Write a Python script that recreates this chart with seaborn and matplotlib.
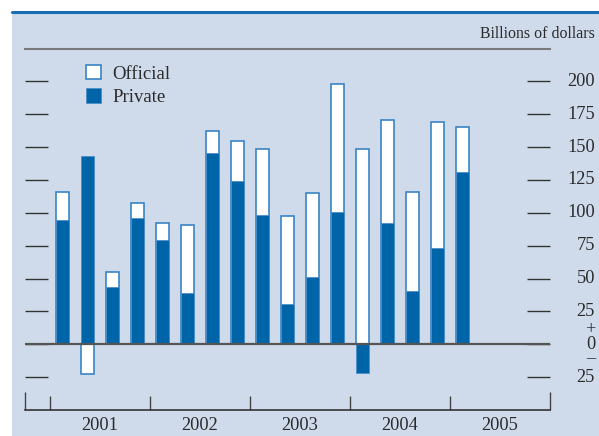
import numpy as np
import pandas as pd
import matplotlib.pyplot as plt
import seaborn as sns
from matplotlib.patches import Patch, Rectangle
from matplotlib.lines import Line2D

# DATOS (miles de millones de dolares, trimestral 2001Q1 - 2005Q1)
quarters = ['2001Q1', '2001Q2', '2001Q3', '2001Q4',
            '2002Q1', '2002Q2', '2002Q3', '2002Q4',
            '2003Q1', '2003Q2', '2003Q3', '2003Q4',
            '2004Q1', '2004Q2', '2004Q3', '2004Q4',
            '2005Q1']
private = [94.2, 143.4, 43.7, 96.4, 79.2, 39.1, 145.7, 124.4, 98.0,
           30.7, 51.0, 100.5, -21.6, 92.6, 40.6, 73.1, 130.7]
official = [21.5, -22.6, 11.6, 10.7, 12.7, 51.3, 16.2, 30.2, 50.7,
            66.8, 64.2, 97.5, 148.2, 78.2, 75.6, 95.7, 34.3]
years = ['2001', '2002', '2003', '2004', '2005']
ytick_vals = [-25, 0, 25, 50, 75, 100, 125, 150, 175, 200]

BG = '#cfdbeb'
DARK = '#0064a8'
EDGE = '#3a84c4'
TXT = '#2b2b2b'

df = pd.DataFrame({'quarter': quarters, 'private': private, 'official': official})
# la parte oficial se apila sobre la privada cuando tienen el mismo signo
df['official_top'] = np.where(df['official'] >= 0,
                              np.maximum(df['private'], 0) + df['official'],
                              np.minimum(df['private'], 0) + df['official'])

sns.set_style('white')
plt.rcParams['font.family'] = ['Liberation Serif', 'DejaVu Serif']

W, H = 599, 436
fig = plt.figure(figsize=(W / 100, H / 100), dpi=100)
fig.patch.set_facecolor('white')
fig.patches.append(Rectangle((12 / W, 0), 1 - 12 / W, (H - 12) / H,
                             transform=fig.transFigure, facecolor=BG,
                             edgecolor='none', zorder=-10))
fig.lines.append(Line2D([12 / W, 1], [(H - 12) / H] * 2, transform=fig.transFigure,
                        color='#1a6db0', lw=2.2))

ax = fig.add_axes([25 / W, (H - 410) / H, 525 / W, 361 / H])
ax.set_facecolor('none')

sns.barplot(data=df, x='quarter', y='official_top', order=quarters, color='white',
            saturation=1, edgecolor=EDGE, linewidth=1.2, width=0.5,
            errorbar=None, ax=ax, zorder=2)
sns.barplot(data=df, x='quarter', y='private', order=quarters, color=DARK,
            saturation=1, edgecolor='#4f8fc8', linewidth=0.6, width=0.5,
            errorbar=None, ax=ax, zorder=3)

ax.set_xlim(-1.5, 19.5)
ax.set_ylim(-50, 224.6)
ax.set_xlabel('')
ax.set_ylabel('')

ax.axhline(0, color='#555555', lw=1.6, zorder=4)

# ejes y ticks
for side in ['left', 'right']:
    ax.spines[side].set_visible(False)
ax.spines['top'].set_color('#7a7a7a')
ax.spines['top'].set_linewidth(1.5)
ax.spines['bottom'].set_color('#333333')
ax.spines['bottom'].set_linewidth(1.2)

ax.set_yticks(ytick_vals)
ax.tick_params(axis='y', which='major', direction='in', left=True, right=True,
               length=16.6, width=1, color='#333333', labelleft=False, labelright=False)

ax.set_xticks([-0.5, 3.5, 7.5, 11.5, 15.5])
ax.set_xticks([-1.5, 19.5], minor=True)
ax.tick_params(axis='x', which='major', direction='in', bottom=True, length=10,
               width=1, color='#444444', labelbottom=False)
ax.tick_params(axis='x', which='minor', direction='in', bottom=True, length=13,
               width=1, color='#444444', labelbottom=False)

# etiquetas del eje derecho (el cero lleva + y - encima y debajo)
for v in ytick_vals:
    if v == 0:
        continue
    ax.text(21.3, v, str(abs(v)), ha='right', va='center', fontsize=13.2,
            color=TXT, clip_on=False)
ax.text(21.12, 0, '+\n0\n\u2013', ha='center', va='center', ma='center',
        fontsize=13.2, linespacing=0.82, color=TXT, clip_on=False)

# etiquetas de anios
for i, yr in enumerate(years):
    ax.text(1.5 + 4 * i, -62, yr, ha='center', va='center', fontsize=13.2,
            color=TXT, clip_on=False)

ax.text(21.3, 236.3, 'Billions of dollars', ha='right', va='center',
        fontsize=11.4, color=TXT, clip_on=False)

handles = [Patch(facecolor='white', edgecolor=EDGE, linewidth=1.2, label='Official'),
           Patch(facecolor=DARK, edgecolor='#4f8fc8', linewidth=0.6, label='Private')]
ax.legend(handles=handles, loc='upper left', bbox_to_anchor=(86 / W, 1 - 65 / H),
          bbox_transform=fig.transFigure, frameon=False, fontsize=13.5,
          handlelength=0.8, handleheight=0.8, handletextpad=0.6,
          labelspacing=0.3, borderpad=0, borderaxespad=0, labelcolor=TXT)

plt.savefig('out.png', dpi=100)
plt.close()
